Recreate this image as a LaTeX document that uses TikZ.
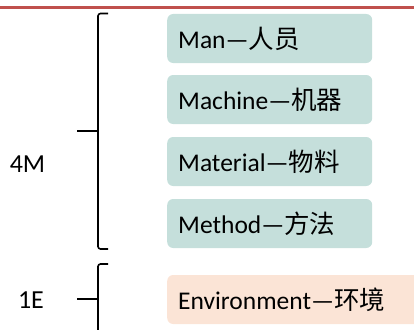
\documentclass[tikz,border=0pt]{standalone}
\usepackage{fontspec}
\setmainfont{Carlito}
\newfontfamily\cjk{Noto Sans CJK SC}
\definecolor{barre}{HTML}{C0504D}
\definecolor{vert}{HTML}{C5DFDB}
\definecolor{peche}{HTML}{FBE4D6}
\begin{document}
\begin{tikzpicture}[x=1pt, y=-1pt]
\tikzset{boite/.style={fill=#1, rounded corners=6pt, minimum height=49pt, text width=183pt, inner xsep=11pt, align=left, anchor=west, font=\fontsize{25.5}{30}\selectfont},
accol/.style={line width=1.6pt, rounded corners=2.5pt},
etiq/.style={font=\fontsize{26}{31}\selectfont}}
\useasboundingbox (0, 0) rectangle (414, 329);
\clip (0, 0) rectangle (414, 329);
\draw[barre, line width=2.5pt] (0, 7.5) -- (414, 7.5);
\node[boite=vert] (B1) at (167, 38.5) {Man—{\cjk 人员}};
\node[boite=vert] (B2) at (167, 99.5) {Machine—{\cjk 机器}};
\node[boite=vert] (B3) at (167, 161.5) {Material—{\cjk 物料}};
\node[boite=vert] (B4) at (167, 223.5) {Method—{\cjk 方法}};
\node[boite=peche, text width=260pt] (B5) at (167, 299.5) {Environment—{\cjk 环境}};
\node[etiq] (M4) at (27.5, 164) {4M};
\node[etiq] (E1) at (31, 300) {1E};
\coordinate (A1) at (108, 13.5);
\coordinate (A2) at (108, 249);
\coordinate (P1) at (77, 131);
\coordinate (A3) at (108, 264);
\coordinate (A4) at (108, 334);
\coordinate (P2) at (77, 299);
\draw[accol] (A1) -- (98, 13.5) -- (98, 249) -- (A2);
\draw[line width=1.6pt] (P1) -- (98, 131);
\draw[accol] (A3) -- (98, 264) -- (98, 334) -- (A4);
\draw[line width=1.6pt] (P2) -- (98, 299);
\end{tikzpicture}
\end{document}
